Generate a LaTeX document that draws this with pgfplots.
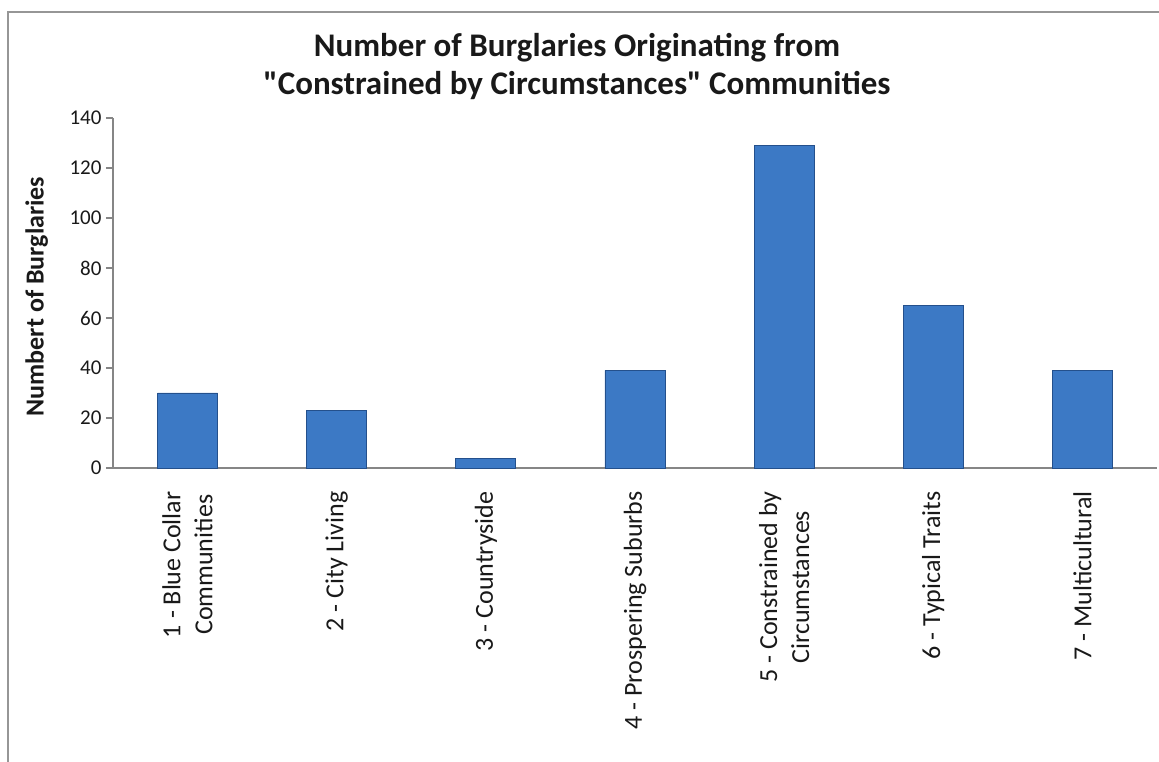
\documentclass[border=0pt]{standalone}
\usepackage{pgfplots}
\pgfplotsset{compat=1.18}
\usepackage{fontspec}
\setmainfont{Carlito}[Ligatures=TeXOff]
\definecolor{barfill}{RGB}{60,121,197}
\definecolor{baredge}{RGB}{36,80,140}
\definecolor{axisgray}{RGB}{134,134,134}
\definecolor{framegray}{RGB}{150,150,150}
\begin{document}
\begin{tikzpicture}[x=1bp,y=1bp]
\useasboundingbox (-113,-294) rectangle (1046,468);
\draw[framegray, line width=2bp] (-105,-300) -- (-105,456) -- (1050,456);
\node[font=\fontsize{33bp}{38bp}\selectfont\bfseries, align=center, text=black!90] at (464,402)
  {Number of Burglaries Originating from\\"Constrained by Circumstances" Communities};
\begin{axis}[
  at={(0,0)}, anchor=south west, scale only axis,
  width=1044bp, height=350bp,
  xmin=-0.5, xmax=6.5, ymin=0, ymax=140,
  axis lines*=left,
  axis line style={axisgray, line width=1.5bp},
  ytick={0,20,...,140},
  xtick={0,...,6},
  xticklabels={{1 - Blue Collar\\Communities},{2 - City Living},{3 - Countryside},{4 - Prospering Suburbs},{5 - Constrained by\\Circumstances},{6 - Typical Traits},{7 - Multicultural}},
  minor xtick={-0.5,0.5,...,6.5},
  xtick style={draw=none},
  minor tick length=8bp,
  major tick length=7bp,
  tick align=outside,
  ytick style={axisgray, line width=1.2bp},
  minor tick style={axisgray, line width=1.2bp},
  /pgf/number format/assume math mode=true,
  yticklabel style={font=\fontsize{21bp}{24bp}\selectfont, text=black!90, xshift=-1bp},
  xticklabel style={rotate=90, anchor=east, align=center, font=\fontsize{26bp}{32bp}\selectfont, text=black!90, xshift=-13bp},
  ylabel={Numbert of Burglaries},
  ylabel style={at={(axis description cs:-0.073,0.49)}, anchor=center, font=\fontsize{26bp}{30bp}\selectfont\bfseries, text=black!90},
  clip=false,
]
\addplot[ybar, bar width=60bp, draw=baredge, line width=0.8bp, fill=barfill]
  coordinates {(0,30) (1,23) (2,4) (3,39) (4,129) (5,65) (6,39)};
\end{axis}
\end{tikzpicture}
\end{document}
